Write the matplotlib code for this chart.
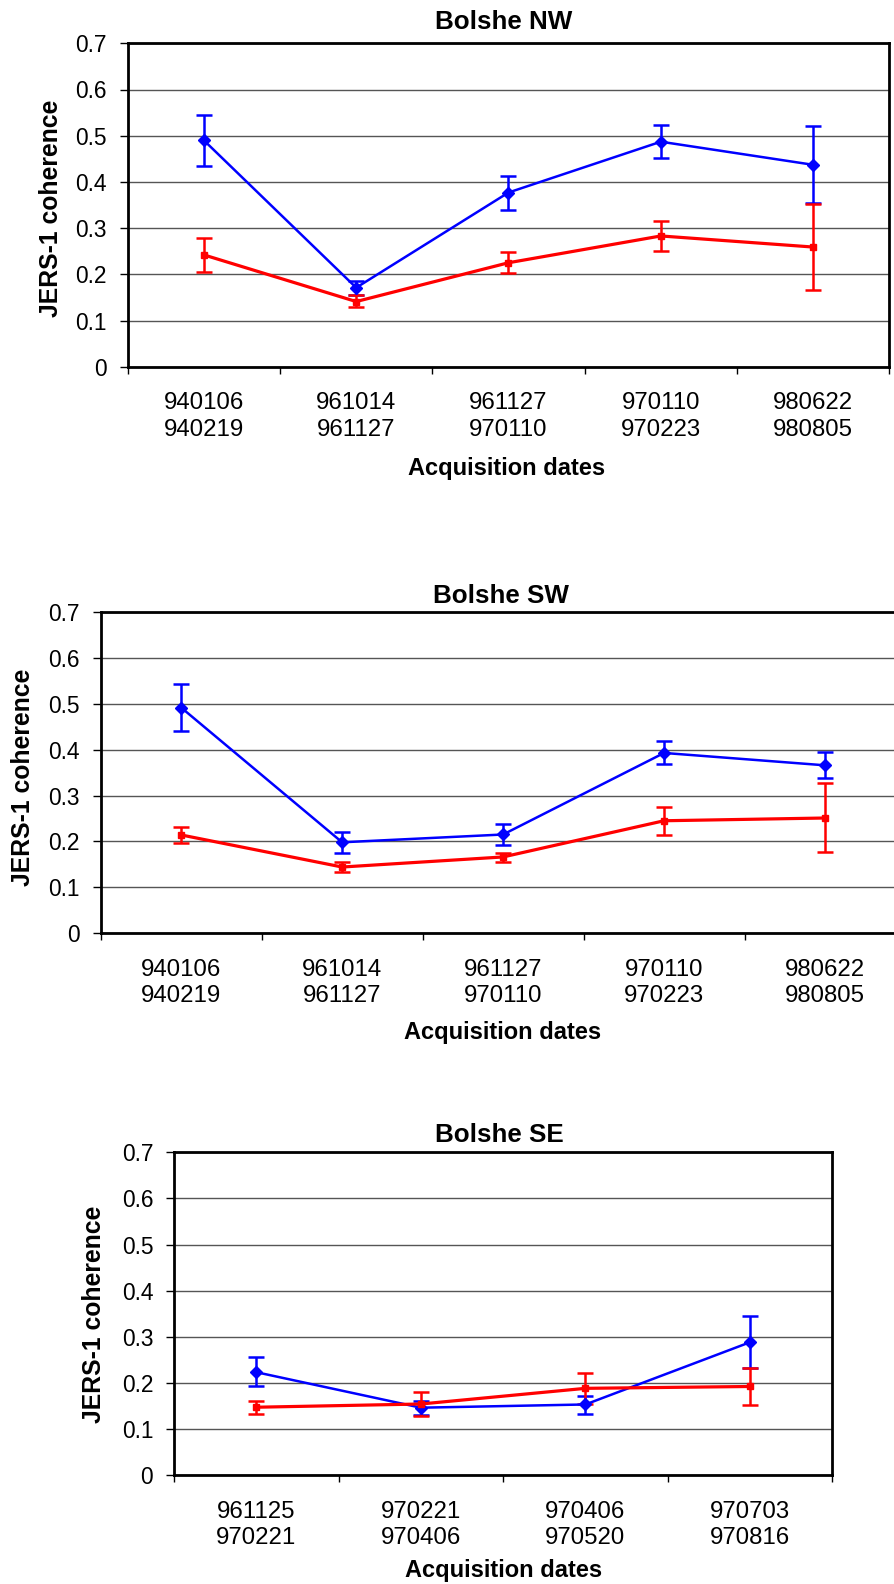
import matplotlib
matplotlib.use("Agg")
import matplotlib.pyplot as plt
import numpy as np

plt.rcParams['font.family'] = ['Liberation Sans', 'DejaVu Sans']

# ---- data -------------------------------------------------------------
nw_dates = ['940106\n940219', '961014\n961127', '961127\n970110',
            '970110\n970223', '980622\n980805']
nw_blue = [0.490, 0.171, 0.377, 0.487, 0.437]
nw_blue_lo = [0.435, 0.155, 0.340, 0.452, 0.354]
nw_blue_hi = [0.545, 0.185, 0.413, 0.524, 0.522]
nw_red = [0.242, 0.141, 0.225, 0.283, 0.259]
nw_red_lo = [0.205, 0.130, 0.202, 0.251, 0.166]
nw_red_hi = [0.278, 0.155, 0.248, 0.315, 0.353]

sw_dates = ['940106\n940219', '961014\n961127', '961127\n970110',
            '970110\n970223', '980622\n980805']
sw_blue = [0.492, 0.198, 0.215, 0.393, 0.366]
sw_blue_lo = [0.440, 0.175, 0.191, 0.368, 0.338]
sw_blue_hi = [0.544, 0.221, 0.239, 0.420, 0.395]
sw_red = [0.214, 0.144, 0.166, 0.245, 0.251]
sw_red_lo = [0.196, 0.133, 0.156, 0.214, 0.176]
sw_red_hi = [0.232, 0.154, 0.175, 0.275, 0.328]

se_dates = ['961125\n970221', '970221\n970406', '970406\n970520',
            '970703\n970816']
se_blue = [0.223, 0.146, 0.153, 0.288]
se_blue_lo = [0.192, 0.131, 0.132, 0.232]
se_blue_hi = [0.256, 0.160, 0.172, 0.344]
se_red = [0.147, 0.154, 0.188, 0.192]
se_red_lo = [0.132, 0.129, 0.154, 0.152]
se_red_hi = [0.161, 0.180, 0.222, 0.232]

yticks = [0, 0.1, 0.2, 0.3, 0.4, 0.5, 0.6, 0.7]
ytick_labels = ['0', '0.1', '0.2', '0.3', '0.4', '0.5', '0.6', '0.7']

W, H = 895, 1584


def box(left, top, right, bottom):
    return [left / W, 1 - bottom / H, (right - left) / W, (bottom - top) / H]


def put(fig, x, y, s, **kw):
    fig.text(x / W, 1 - y / H, s, ha='center', va='center', **kw)


def panel(fig, rect, dates, series):
    ax = fig.add_axes(rect)
    n = len(dates)
    x = np.arange(n)
    for mean, lo, hi, color, marker, ms, lw in series:
        mean = np.array(mean)
        yerr = [mean - np.array(lo), np.array(hi) - mean]
        ax.errorbar(x, mean, yerr=yerr, color=color, marker=marker,
                    markersize=ms, linewidth=lw, elinewidth=1.8,
                    capsize=5.5, capthick=1.8, zorder=3)
    ax.set_xlim(-0.5, n - 0.5)
    ax.set_ylim(0, 0.7)
    ax.set_yticks(yticks)
    ax.set_yticklabels(ytick_labels, fontsize=16.4)
    ax.set_xticks(x)
    ax.set_xticklabels(dates, fontsize=17.3, linespacing=1.25)
    ax.set_xticks(np.arange(n + 1) - 0.5, minor=True)
    ax.tick_params(axis='x', which='major', length=0, pad=18.5)
    ax.tick_params(axis='x', which='minor', length=5, width=1, direction='out')
    ax.tick_params(axis='y', length=5.5, width=1, direction='out', pad=9.5)
    ax.grid(axis='y', color='#555555', linewidth=1.0, zorder=0)
    ax.set_axisbelow(True)
    for sp in ax.spines.values():
        sp.set_linewidth(2.0)
        sp.set_color('black')
    return ax


fig = plt.figure(figsize=(W / 100, H / 100), dpi=100)

blue = '#0000ff'
red = '#ff0000'

panels = [
    (box(127.7, 43.3, 889.3, 366.7), nw_dates,
     [(nw_blue, nw_blue_lo, nw_blue_hi, blue, 'D', 6.0, 1.8),
      (nw_red, nw_red_lo, nw_red_hi, red, 's', 4.8, 2.3)],
     'Bolshe NW', (504, 22), (51.5, 208), (507, 468)),
    (box(100.7, 612.3, 905.5, 933.0), sw_dates,
     [(sw_blue, sw_blue_lo, sw_blue_hi, blue, 'D', 6.0, 1.8),
      (sw_red, sw_red_lo, sw_red_hi, red, 's', 4.8, 2.3)],
     'Bolshe SW', (501, 596), (23, 777), (503, 1032.7)),
    (box(174.0, 1152.3, 832.3, 1475.0), se_dates,
     [(se_blue, se_blue_lo, se_blue_hi, blue, 'D', 6.0, 1.8),
      (se_red, se_red_lo, se_red_hi, red, 's', 4.8, 2.3)],
     'Bolshe SE', (499, 1135), (94, 1314), (503.5, 1570)),
]

for rect, dates, series, title, tpos, ypos, xpos in panels:
    panel(fig, rect, dates, series)
    put(fig, *tpos, title, fontsize=18.7, fontweight='bold')
    put(fig, *ypos, 'JERS-1 coherence', fontsize=17.8, fontweight='bold',
        rotation=90)
    put(fig, *xpos, 'Acquisition dates', fontsize=17, fontweight='bold')

fig.savefig('out.png', dpi=100)
